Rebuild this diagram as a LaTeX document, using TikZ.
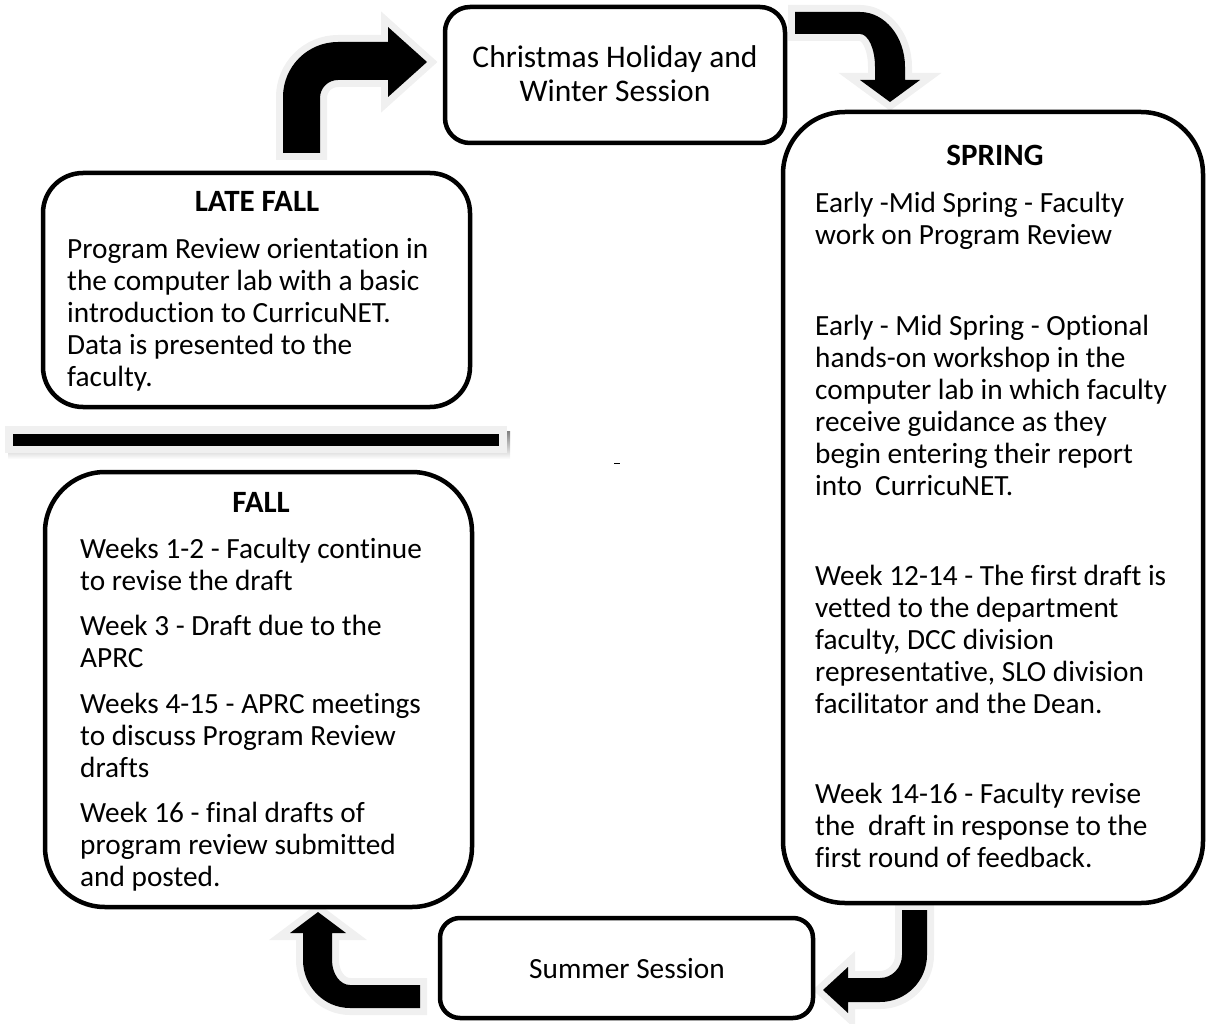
\documentclass[tikz,border=0pt]{standalone}
\usepackage{fontspec}
\setmainfont{Carlito}[Ligatures={NoCommon,NoContextual}]
\definecolor{halo}{RGB}{240,240,240}
\definecolor{shade}{RGB}{200,200,200}
\begin{document}
\begin{tikzpicture}[x=1pt,y=-1pt,
  box/.style={draw=black, line width=4.5pt, fill=white, inner sep=0pt},
  body/.style={font=\fontsize{29.3}{32}\selectfont, align=left, anchor=north west, inner sep=0pt},
  ttl/.style={font=\fontsize{31}{34}\selectfont\bfseries, anchor=base, inner sep=0pt},
  bigarrow/.style={fill=black, preaction={draw=halo, line width=14pt, line join=miter}}]
\useasboundingbox (0,0) rectangle (1207,1024);

% block arrows
\path[bigarrow] (283,153) -- (283,97) .. controls (283,66.6) and (307.6,42) .. (338,42) -- (388,42) -- (388,27) -- (427,62) -- (388,97) -- (388,80) -- (338,80) .. controls (328,80) and (320,88) .. (320,98) -- (320,153) -- cycle;
\path[bigarrow] (795,12) -- (860,12) .. controls (884.8,12) and (905,36.6) .. (905,67) -- (905,80) -- (920,80) -- (890,102) -- (860,80) -- (875,80) -- (875,67) .. controls (875,48.8) and (868.3,34) .. (860,34) -- (795,34) -- cycle;
\path[bigarrow] (902,910) -- (927,910) -- (927,955) .. controls (927,981) and (906,1002) .. (880,1002) -- (848,1002) -- (848,1013) -- (823,990) -- (848,967) -- (848,978) -- (880,978) .. controls (892,978) and (902,967.7) .. (902,955) -- cycle;
\path[bigarrow] (420,985) -- (420,1008) -- (350,1008) .. controls (324,1008) and (303,986.5) .. (303,960) -- (303,933) -- (290,933) -- (318,912) -- (346,933) -- (332,933) -- (332,960) .. controls (332,973.8) and (340,985) .. (350,985) -- cycle;

% separator bar
\fill[shade] (8,431) rectangle (510,459);
\fill[halo] (5,426) rectangle (507,453);
\fill[black] (13,434) rectangle (499,446);
\draw[shade, line width=0.8pt] (614,463) -- (620,463);

% boxes
\node[box, rounded corners=25pt, minimum width=340pt, minimum height=136pt] (xmas) at (615,75) {};
\node[box, rounded corners=62pt, minimum width=420pt, minimum height=791pt] (spring) at (993,507.5) {};
\node[box, rounded corners=40pt, minimum width=427pt, minimum height=234pt] (latefall) at (256.5,290) {};
\node[box, rounded corners=60pt, minimum width=427pt, minimum height=435pt] (fall) at (258.5,689.5) {};
\node[box, rounded corners=20pt, minimum width=373pt, minimum height=100pt] (summer) at (626.5,968) {};

% texts
\node[font=\fontsize{31.5}{34}\selectfont, align=center, anchor=north, inner sep=0pt] (xmastxt) at (615,45) {Christmas Holiday and\\Winter Session};
\node[font=\fontsize{29.3}{32}\selectfont, anchor=base, inner sep=0pt] (summertxt) at (627,978) {Summer Session};

\node[ttl] (lftitle) at (257,212) {LATE FALL};
\node[body] (lfbody) at (67,238) {Program Review orientation in\\the computer lab with a basic\\introduction to CurricuNET.\\Data is presented to the\\faculty.};

\node[ttl] (falltitle) at (261,512) {FALL};
\node[body] (fallA) at (80,538) {Weeks 1-2 - Faculty continue\\to revise the draft};
\node[body] (fallB) at (80,615) {Week 3 - Draft due to the\\APRC};
\node[body] (fallC) at (80,693) {Weeks 4-15 - APRC meetings\\to discuss Program Review\\drafts};
\node[body] (fallD) at (80,802) {Week 16 - final drafts of\\program review submitted\\and posted.};

\node[ttl] (springtitle) at (995,166) {SPRING};
\node[body] (springA) at (815,192) {Early -Mid Spring - Faculty\\work on Program Review};
\node[body] (springB) at (815,315) {Early - Mid Spring - Optional\\hands-on workshop in the\\computer lab in which faculty\\receive guidance as they\\begin entering their report\\into\ \ CurricuNET.};
\node[body] (springC) at (815,565) {Week 12-14 - The first draft is\\vetted to the department\\faculty, DCC division\\representative, SLO division\\facilitator and the Dean.};
\node[body] (springD) at (815,783) {Week 14-16 - Faculty revise\\the\ \ draft in response to the\\first round of feedback.};
\end{tikzpicture}
\end{document}
